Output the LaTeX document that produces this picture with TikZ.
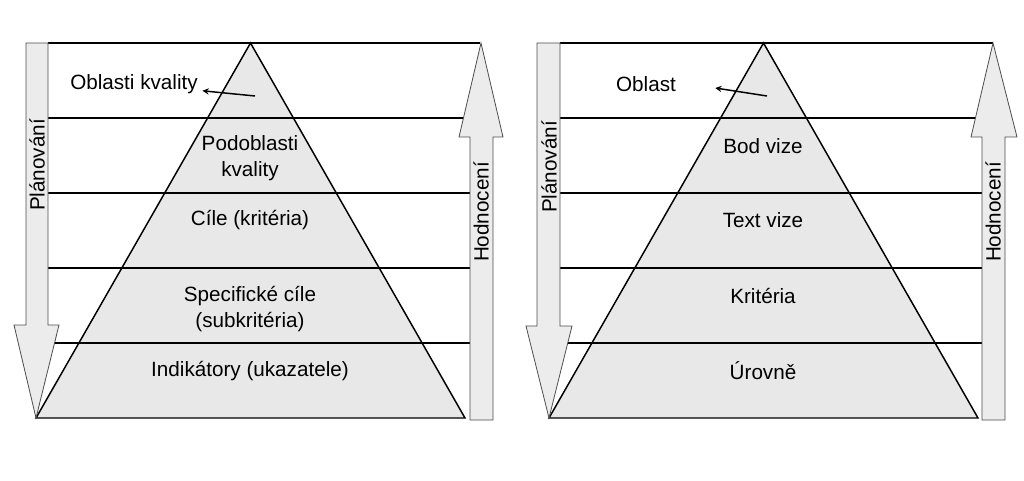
\documentclass[tikz,border=0pt]{standalone}
\usepackage{fontspec}
\setmainfont{Liberation Sans}
\usepackage{tikz}
\usetikzlibrary{arrows,positioning}
\definecolor{pyrgray}{RGB}{232,232,232}
\definecolor{arrgray}{RGB}{236,236,236}
\tikzstyle{level} = [draw=none, fill=none, align=center, text centered, font=\fontsize{15.5}{19}\selectfont]
\tikzstyle{vlabel} = [level, rotate=90]
\tikzstyle{band}  = [draw, line width=1.1pt]
\tikzstyle{bigarrow} = [draw=black!70, line width=0.6pt, fill=arrgray]
\tikzstyle{pointer} = [draw, line width=1.1pt, >=stealth, ->]

\begin{document}
\begin{tikzpicture}[x=0.75pt, y=-0.75pt]
\useasboundingbox (0,0) rectangle (1024,481);

% left pyramid =============================
\fill[pyrgray] (250.5,43) -- (465,418) -- (36,418) -- cycle;
\foreach \yy in {43,118,193,268,343}
  \draw[band] (48,\yy) -- (480,\yy);
\draw[band] (250.5,43) -- (465,418) -- (36,418) -- cycle;
\path[bigarrow] (26,43) -- (48,43) -- (48,325) -- (59,325) -- (36,418) -- (14,325) -- (26,325) -- cycle;
\path[bigarrow] (470,420) -- (493,420) -- (493,137) -- (503,137) -- (481,43) -- (459,137) -- (470,137) -- cycle;

\node[vlabel] (planL) at (37,165) {Plánování};
\node[vlabel] (hodnL) at (481,212) {Hodnocení};
\node[level] (oblastL) at (134,84) {Oblasti kvality};
\node[level] (podobl) at (250,158) {Podoblasti\\kvality};
\node[level] (cile) at (250,220) {Cíle (kritéria)};
\node[level] (speccile) at (250,309) {Specifické cíle\\(subkritéria)};
\node[level] (indik) at (250,371) {Indikátory (ukazatele)};
\coordinate (ptrL) at (255,96);
\path[pointer] (ptrL) -- (oblastL);

% right pyramid ============================
\fill[pyrgray] (763.5,43) -- (978,418) -- (549,418) -- cycle;
\foreach \yy in {43,118,193,268,343}
  \draw[band] (560,\yy) -- (993,\yy);
\draw[band] (763.5,43) -- (978,418) -- (549,418) -- cycle;
\path[bigarrow] (537,43) -- (560,43) -- (560,326) -- (572,326) -- (549,418) -- (526,326) -- (537,326) -- cycle;
\path[bigarrow] (982,420) -- (1005,420) -- (1005,137) -- (1017,137) -- (993,43) -- (971,137) -- (982,137) -- cycle;

\node[vlabel] (planR) at (549,167) {Plánování};
\node[vlabel] (hodnR) at (993,212) {Hodnocení};
\node[level] (oblastR) at (646,84) {Oblast};
\node[level] (bod) at (763,146) {Bod vize};
\node[level] (textv) at (763,220) {Text vize};
\node[level] (krit) at (763,296) {Kritéria};
\node[level] (urov) at (763,371) {Úrovně};
\coordinate (ptrR) at (767,96);
\path[pointer] (ptrR) -- ([xshift=26pt, yshift=-3pt]oblastR.east);

\end{tikzpicture}
\end{document}
